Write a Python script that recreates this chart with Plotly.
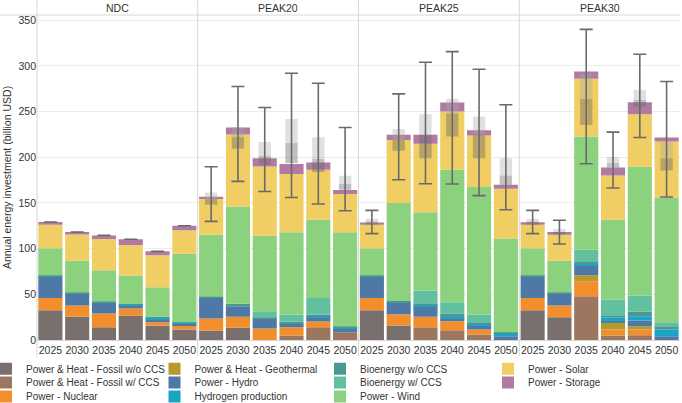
import numpy as np
import plotly.graph_objects as go
from plotly.subplots import make_subplots

scenarios = ["NDC", "PEAK20", "PEAK25", "PEAK30"]
years = ["2025", "2030", "2035", "2040", "2045", "2050"]

# billion USD; each list runs NDC, PEAK20, PEAK25, PEAK30 (6 years each)
fossil_wo_ccs = [32.6, 25.4, 14.0, 26.8, 15.5, 11.5,
                 10.4, 13.3, 0, 0, 0, 0,
                 32.6, 15.8, 0, 0, 0, 0,
                 32.6, 24.9, 0, 0, 0, 0]
fossil_w_ccs = [0, 0, 0, 0, 0, 0,
                0, 0, 0, 4.9, 14.0, 8.5,
                0, 0, 14.0, 10.7, 6.0, 0,
                0, 0, 47.9, 4.9, 5.3, 0]
nuclear = [13.5, 12.3, 15.0, 7.6, 4.0, 4.7,
           13.1, 12.1, 12.6, 9.1, 6.2, 0,
           13.5, 12.4, 11.4, 9.8, 5.5, 0,
           13.5, 12.8, 16.4, 6.6, 6.2, 0]
geothermal = [0, 0, 0, 0, 0, 0,
              0, 0, 0, 0, 0, 0,
              0, 0, 0, 0, 0, 0,
              0, 0, 6.5, 8.0, 3.6, 0]
hydro = [23.6, 13.1, 11.7, 3.6, 2.9, 1.8,
         22.6, 11.5, 10.6, 4.0, 4.1, 4.1,
         23.6, 12.5, 11.5, 3.3, 4.7, 4.2,
         23.6, 12.8, 10.9, 1.0, 6.2, 4.2]
hydrogen = [0, 0, 0, 0.5, 1.0, 0.8,
            0, 0, 0, 0, 1.5, 1.2,
            0, 0, 0.8, 1.2, 0.8, 3.2,
            0, 0, 1.5, 3.8, 4.7, 7.3]
bio_wo_ccs = [1.2, 1.2, 1.3, 0.9, 2.3, 0.7,
              1.1, 2.7, 1.1, 1.9, 2.1, 1.0,
              1.2, 2.1, 2.5, 4.0, 2.5, 1.2,
              1.2, 1.4, 2.9, 2.8, 4.8, 3.6]
bio_w_ccs = [0, 0, 0, 0, 0, 0,
             0, 0, 7.2, 8.0, 18.2, 0,
             0, 0, 13.9, 12.3, 8.4, 0,
             0, 0, 12.8, 17.2, 17.8, 4.4]
wind = [29.4, 34.9, 34.3, 31.1, 32.0, 75.0,
        68.1, 106.6, 82.7, 89.9, 85.6, 103.0,
        29.4, 107.2, 85.6, 145.0, 139.5, 102.4,
        29.4, 35.0, 123.8, 87.4, 141.4, 136.5]
solar = [25.9, 28.7, 34.3, 33.5, 35.0, 25.5,
         39.7, 78.8, 75.8, 63.8, 54.6, 42.0,
         25.9, 69.0, 75.1, 63.7, 56.4, 54.6,
         25.9, 28.4, 63.1, 48.4, 57.2, 61.3]
storage = [2.9, 2.6, 3.9, 6.2, 4.3, 5.1,
           1.8, 7.6, 9.0, 11.0, 8.0, 4.3,
           2.5, 5.6, 9.8, 10.0, 5.9, 4.4,
           2.8, 2.9, 8.0, 8.8, 13.1, 4.3]

# spread of model results for the total (whiskers and box)
range_low = [129.1, 118.2, 114.5, 110.2, 97.0, 125.1,
             129.8, 173.6, 162.6, 156.0, 148.8, 141.5,
             116.4, 175.4, 171.0, 170.7, 158.0, 142.6,
             116.4, 105.0, 192.9, 166.3, 221.6, 156.5]
range_q1 = [129.1, 118.2, 114.5, 110.2, 97.0, 125.1,
            148.1, 209.3, 191.8, 193.6, 183.8, 164.5,
            126.2, 207.0, 199.0, 222.7, 199.0, 170.0,
            126.2, 115.3, 235.2, 188.9, 255.5, 185.6]
range_median = [129.1, 118.2, 114.5, 110.2, 97.0, 125.1,
                154.3, 222.0, 201.6, 215.5, 198.0, 171.0,
                129.8, 219.0, 224.6, 248.0, 224.6, 180.0,
                129.8, 118.2, 263.9, 193.7, 262.8, 199.0]
range_q3 = [129.1, 118.2, 114.5, 110.2, 97.0, 125.1,
            161.5, 233.0, 216.6, 242.0, 222.0, 179.8,
            132.8, 231.0, 247.0, 264.0, 244.6, 199.0,
            132.8, 121.5, 291.3, 200.2, 273.8, 217.3]
range_high = [129.1, 118.2, 114.5, 110.2, 97.0, 125.1,
              189.6, 277.4, 254.4, 292.0, 281.0, 232.6,
              141.9, 269.4, 304.0, 315.6, 296.4, 257.4,
              141.9, 131.0, 340.0, 227.5, 312.8, 282.9]

categories = [
    ("Power & Heat - Fossil w/o CCS", fossil_wo_ccs, "#79706e"),
    ("Power & Heat - Fossil w/ CCS", fossil_w_ccs, "#9d7660"),
    ("Power - Nuclear", nuclear, "#f28e2b"),
    ("Power & Heat - Geothermal", geothermal, "#b6992d"),
    ("Power - Hydro", hydro, "#4e79a7"),
    ("Hydrogen production", hydrogen, "#1ba3c6"),
    ("Bioenergy w/o CCS", bio_wo_ccs, "#499894"),
    ("Bioenergy w/ CCS", bio_w_ccs, "#62c09f"),
    ("Power - Wind", wind, "#8cd17d"),
    ("Power - Solar", solar, "#f1ce63"),
    ("Power - Storage", storage, "#b07aa1"),
]

FONT = "Liberation Sans, Arial, sans-serif"
TXT = "#333333"

fig = make_subplots(rows=1, cols=4, shared_yaxes=True, horizontal_spacing=0)

def legend_id(i):
    return "legend" if i == 0 else "legend%d" % (i + 1)

for s, scen in enumerate(scenarios):
    sl = slice(s * 6, (s + 1) * 6)
    col = s + 1
    base = np.zeros(6)
    for i, (name, vals, color) in enumerate(categories):
        v = np.array(vals[sl], dtype=float)
        fig.add_trace(go.Bar(
            x=years, y=v, base=base.copy(), width=0.9,
            name=name, marker=dict(color=color, line=dict(width=0)),
            legendgroup=name, showlegend=(s == 0), legend=legend_id(i),
        ), row=1, col=col)
        base = base + v

    q1 = np.array(range_q1[sl])
    med = np.array(range_median[sl])
    q3 = np.array(range_q3[sl])
    lo = np.array(range_low[sl])
    hi = np.array(range_high[sl])
    fig.add_trace(go.Bar(x=years, y=med - q1, base=q1, width=0.46,
                         marker=dict(color="rgba(105,105,105,0.42)", line=dict(width=0)),
                         showlegend=False, hoverinfo="skip"), row=1, col=col)
    fig.add_trace(go.Bar(x=years, y=q3 - med, base=med, width=0.46,
                         marker=dict(color="rgba(170,170,170,0.36)", line=dict(width=0)),
                         showlegend=False, hoverinfo="skip"), row=1, col=col)
    fig.add_trace(go.Scatter(
        x=years, y=med, mode="markers",
        marker=dict(color="rgba(0,0,0,0)", size=2),
        error_y=dict(type="data", symmetric=False, array=hi - med, arrayminus=med - lo,
                     color="#6a6a6a", thickness=1.6, width=6.5),
        showlegend=False, hoverinfo="skip"), row=1, col=col)

# pixel helpers for the layout (plot area 37..680 x 15..340)
L, R, T, B = 37, 680, 15, 340
def px_x(p):
    return (p - L) / (R - L)
def px_y(p):
    return (B - p) / (B - T)

for k in range(1, 5):
    fig.update_xaxes(showgrid=False, showline=True, linecolor="#d6d6d6", linewidth=1,
                     ticks="", tickfont=dict(size=10.5, color=TXT, family=FONT),
                     row=1, col=k)
fig.update_yaxes(range=[0, 355.7], dtick=50, showgrid=True, gridcolor="#ececec",
                 zeroline=False, showline=False, ticks="",
                 tickfont=dict(size=10.5, color=TXT, family=FONT))
fig.update_yaxes(title=dict(text="Annual energy investment (billion USD)",
                            font=dict(size=10.5, color=TXT, family=FONT), standoff=4),
                 row=1, col=1)

shapes = []
for b in [0, 0.25, 0.5, 0.75]:
    shapes.append(dict(type="line", xref="paper", yref="paper", x0=b, x1=b,
                       y0=px_y(356), y1=px_y(0), line=dict(color="#d6d6d6", width=1)))
shapes.append(dict(type="line", xref="paper", yref="paper", x0=px_x(0), x1=1,
                   y0=1, y1=1, line=dict(color="#d6d6d6", width=1)))

annotations = []
for s, scen in enumerate(scenarios):
    annotations.append(dict(text=scen, xref="paper", yref="paper", x=0.125 + 0.25 * s,
                            y=px_y(7.5), xanchor="center", yanchor="middle", showarrow=False,
                            font=dict(size=10.5, color=TXT, family=FONT)))

# legend laid out in 4 columns x 3 rows, column-major like the reference
col_swatch_x = [4, 172.5, 338, 506]
row_y = [368.8, 382.5, 396.5]
legends = {}
for i in range(len(categories)):
    legends[legend_id(i)] = dict(
        orientation="h", xanchor="left", yanchor="middle",
        x=px_x(col_swatch_x[i // 3] - 18), y=px_y(row_y[i % 3]),
        font=dict(size=10, color=TXT, family=FONT),
        bgcolor="rgba(0,0,0,0)", borderwidth=0)

fig.update_layout(
    width=682, height=403,
    margin=dict(l=L, r=682 - R, t=T, b=403 - B, autoexpand=False),
    barmode="overlay", bargap=0.1,
    plot_bgcolor="white", paper_bgcolor="white",
    font=dict(family=FONT, color=TXT),
    shapes=shapes, annotations=annotations,
    **legends,
)

fig.write_html("out.html", config={"displayModeBar": False},
               post_script="document.body.style.margin='0px';")
